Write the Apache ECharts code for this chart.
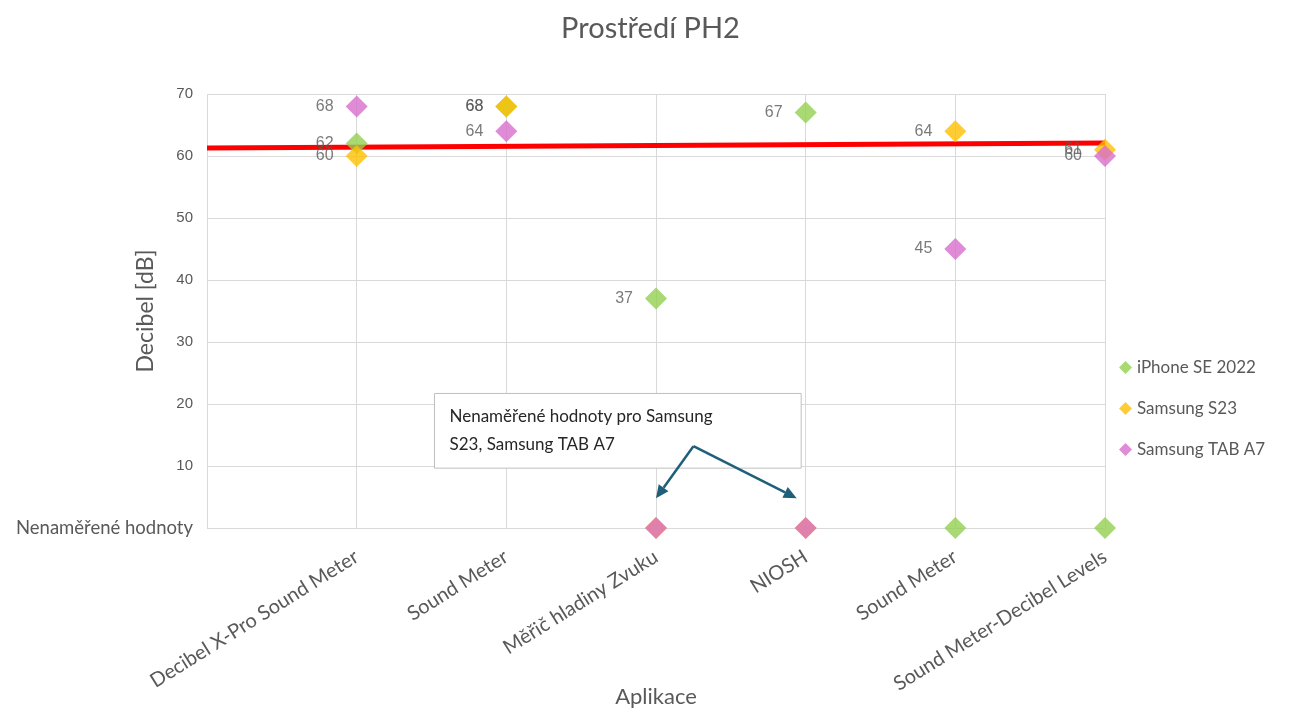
<!DOCTYPE html>
<html>
<head>
<meta charset="utf-8">
<title>Prostředí PH2</title>
<script src="https://cdn.jsdelivr.net/npm/echarts@6/dist/echarts.min.js"></script>
<style>
  html, body { margin: 0; padding: 0; background: #fff; }
  #chart { width: 1301px; height: 713px; }
</style>
</head>
<body>
<div id="chart"></div>
<script>
// Categories (first empty slot = left edge of the plot area)
const apps = ['', 'Decibel X-Pro Sound Meter', 'Sound Meter', 'Měřič hladiny Zvuku', 'NIOSH', 'Sound Meter', 'Sound Meter-Decibel Levels'];

// Measured values, 0 = not measured
const iphoneSE = [null, 62, 68, 37, 67, 0, 0];
const samsungS23 = [null, 60, 68, 0, 0, 64, 61];
const samsungTab = [null, 68, 64, 0, 0, 45, 60];

// red average line, start and end values
const avgLine = [[0, 61.3], [6, 62.1]];

const yTicks = { min: 0, max: 70, interval: 10 };

const textGrey = '#595959';
const numFont = 'Liberation Sans, Arial, sans-serif';
const labelFont = 'Lato, Noto Sans, sans-serif';

function scatterSeries(name, data, color) {
    return {
        name: name,
        type: 'scatter',
        symbol: 'diamond',
        symbolSize: 22,
        itemStyle: { color: color },
        data: data,
        z: 3,
        label: {
            show: true,
            position: 'left',
            distance: 12,
            fontFamily: numFont,
            fontSize: 16,
            color: textGrey,
            formatter: (p) => p.value === 0 ? '' : String(p.value)
        }
    };
}

const chart = echarts.init(document.getElementById('chart'));

const option = {
    animation: false,
    title: {
        text: 'Prostředí PH2',
        left: 'center',
        top: 9,
        textStyle: { fontFamily: labelFont, fontSize: 29, fontWeight: 'normal', color: textGrey }
    },
    legend: {
        orient: 'vertical',
        left: 1114,
        top: 354,
        itemGap: 24,
        itemWidth: 13,
        itemHeight: 13,
        icon: 'diamond',
        textStyle: { fontFamily: labelFont, fontSize: 17, color: textGrey },
        data: ['iPhone SE 2022', 'Samsung S23', 'Samsung TAB A7']
    },
    grid: { left: 207, right: 196, top: 94, bottom: 184, containLabel: false },
    xAxis: {
        type: 'category',
        data: apps,
        boundaryGap: false,
        name: 'Aplikace',
        nameLocation: 'middle',
        nameGap: 158,
        nameMoveOverlap: false,
        nameTextStyle: { fontFamily: labelFont, fontSize: 22, color: textGrey },
        axisLine: { show: false },
        axisTick: { show: false },
        axisLabel: {
            rotate: 32,
            margin: 27,
            interval: 0,
            fontFamily: labelFont,
            fontSize: 20,
            color: textGrey
        },
        splitLine: { show: true, lineStyle: { color: '#d9d9d9', width: 1 } }
    },
    yAxis: {
        type: 'value',
        min: yTicks.min,
        max: yTicks.max,
        interval: yTicks.interval,
        name: 'Decibel [dB]',
        nameLocation: 'middle',
        nameGap: 50,
        nameMoveOverlap: false,
        nameTextStyle: { fontFamily: labelFont, fontSize: 23, color: textGrey },
        axisLine: { show: false },
        axisTick: { show: false },
        axisLabel: {
            margin: 14,
            fontFamily: numFont,
            fontSize: 15,
            color: textGrey,
            formatter: (v) => v === 0 ? '{n|Nenaměřené hodnoty}' : String(v),
            rich: { n: { fontFamily: labelFont, fontSize: 18.5, color: textGrey } }
        },
        splitLine: { lineStyle: { color: '#d9d9d9', width: 1 } }
    },
    series: [
        {
            name: 'avg',
            type: 'line',
            data: avgLine,
            symbol: 'none',
            lineStyle: { color: '#ff0000', width: 5 },
            z: 2,
            silent: true
        },
        scatterSeries('iPhone SE 2022', iphoneSE, '#92d050'),
        scatterSeries('Samsung S23', samsungS23, '#ffc000'),
        scatterSeries('Samsung TAB A7', samsungTab, '#d86ecc')
    ]
};

chart.setOption(option);

// pixel position for a fractional category index and a value
function toPx(idx, val) {
    const lo = Math.floor(idx), hi = Math.ceil(idx);
    const a = chart.convertToPixel({ xAxisIndex: 0, yAxisIndex: 0 }, [lo, val]);
    const b = chart.convertToPixel({ xAxisIndex: 0, yAxisIndex: 0 }, [hi, val]);
    const t = idx - lo;
    return [a[0] + (b[0] - a[0]) * t, a[1]];
}

// annotation box with two arrows pointing at the missing values
const boxTopLeft = toPx(1.52, 21.7);
const boxBottomRight = toPx(3.97, 9.65);
const arrowFrom = toPx(3.25, 13.2);
const arrowA = toPx(3, 4.8);
const arrowB = toPx(3.94, 4.8);
const arrowColor = '#1f5f7a';

function arrow(from, to) {
    const ang = Math.atan2(to[1] - from[1], to[0] - from[0]);
    const len = 13, half = 6;
    const bx = to[0] - len * Math.cos(ang), by = to[1] - len * Math.sin(ang);
    return [
        {
            type: 'line',
            shape: { x1: from[0], y1: from[1], x2: bx, y2: by },
            style: { stroke: arrowColor, lineWidth: 2.5 },
            z: 20
        },
        {
            type: 'polygon',
            shape: { points: [
                to,
                [bx + half * Math.sin(ang), by - half * Math.cos(ang)],
                [bx - half * Math.sin(ang), by + half * Math.cos(ang)]
            ] },
            style: { fill: arrowColor },
            z: 20
        }
    ];
}

chart.setOption({
    graphic: [
        {
            type: 'rect',
            shape: {
                x: boxTopLeft[0], y: boxTopLeft[1],
                width: boxBottomRight[0] - boxTopLeft[0],
                height: boxBottomRight[1] - boxTopLeft[1]
            },
            style: { fill: '#ffffff', stroke: '#bfbfbf', lineWidth: 1 },
            z: 10
        },
        {
            type: 'text',
            x: boxTopLeft[0] + 15,
            y: boxTopLeft[1] + 9,
            style: {
                text: 'Nenaměřené hodnoty pro Samsung\nS23, Samsung TAB A7',
                fontFamily: labelFont,
                fontSize: 17,
                lineHeight: 28,
                fill: '#262626'
            },
            z: 11
        }
    ].concat(arrow(arrowFrom, arrowA), arrow(arrowFrom, arrowB))
});
</script>
</body>
</html>
